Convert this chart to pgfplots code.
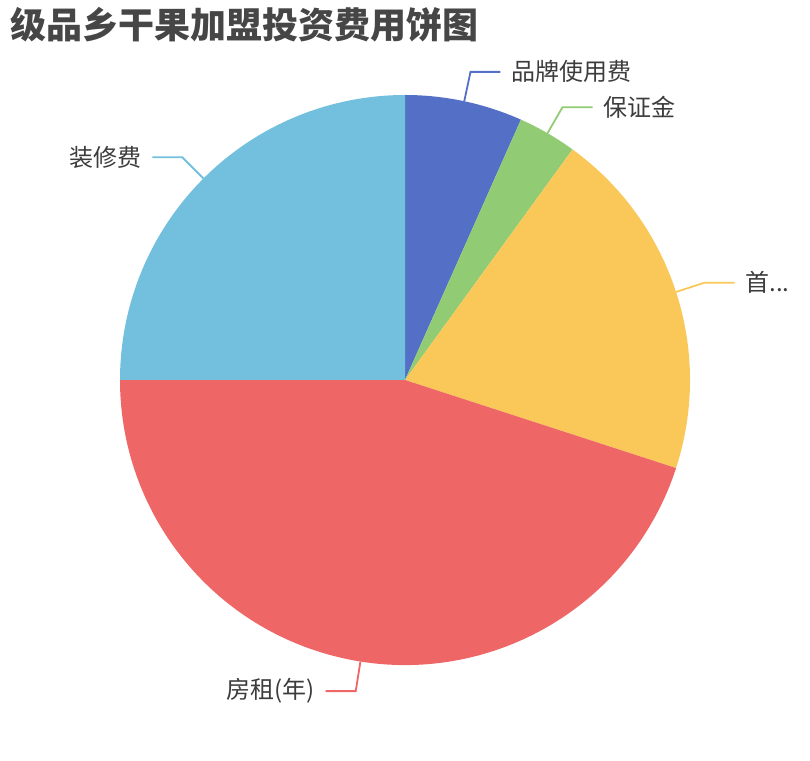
\documentclass[border=0pt]{standalone}
\usepackage{pgfplots}
\pgfplotsset{compat=1.18}
\usepackage{pgfplotstable}
\usepackage{fontspec}
\setmainfont{Noto Sans CJK SC}
\definecolor{c0}{HTML}{5470C6}
\definecolor{c1}{HTML}{91CC75}
\definecolor{c2}{HTML}{FAC858}
\definecolor{c3}{HTML}{EE6666}
\definecolor{c4}{HTML}{73C0DE}
\definecolor{titlec}{HTML}{464646}
\definecolor{labelc}{HTML}{3C3C3C}
\tikzset{lbl/.style={font=\fontsize{24}{28}\selectfont, text=labelc, inner sep=0pt}}
\begin{document}
\begin{tikzpicture}
\pgfplotstableread{
name value
品牌使用费 0.8
保证金 0.4
首... 2.4
房租(年) 5.4
装修费 3.0
}\piedata
\def\tot{0}
\pgfplotsforeachungrouped \i in {0,...,4}{%
  \pgfplotstablegetelem{\i}{value}\of\piedata
  \pgfmathsetmacro\tot{\tot+\pgfplotsretval}}
\def\cur{90}
\pgfplotsforeachungrouped \i in {0,...,4}{%
  \pgfplotstablegetelem{\i}{value}\of\piedata
  \pgfmathsetmacro\spn{360*\pgfplotsretval/\tot}%
  \pgfmathsetmacro\nxt{\cur-\spn}%
  \pgfmathsetmacro\mida{\cur-\spn/2}%
  \pgfmathtruncatemacro\sgn{cos(\mida)>=0 ? 1 : -1}%
  \expandafter\xdef\csname sa\i\endcsname{\cur}%
  \expandafter\xdef\csname ea\i\endcsname{\nxt}%
  \expandafter\xdef\csname ma\i\endcsname{\mida}%
  \expandafter\xdef\csname sg\i\endcsname{\sgn}%
  \ifnum\sgn>0 \expandafter\xdef\csname an\i\endcsname{west}%
  \else \expandafter\xdef\csname an\i\endcsname{east}\fi
  \pgfplotstablegetelem{\i}{name}\of\piedata
  \expandafter\xdef\csname nm\i\endcsname{\pgfplotsretval}%
  \let\cur\nxt}
\begin{axis}[x=1pt,y=1pt,xmin=0,xmax=810,ymin=0,ymax=760,hide axis,clip=false]
\path (axis cs:0,0) rectangle (axis cs:810,760);
\pgfplotsinvokeforeach{0,...,4}{%
  \edef\tmp{\noexpand\fill[c#1] (axis cs:405,380) -- ++(\csname sa#1\endcsname:285pt)
    arc[start angle=\csname sa#1\endcsname, end angle=\csname ea#1\endcsname, radius=285pt] -- cycle;}%
  \tmp
}
\pgfplotsinvokeforeach{0,...,4}{%
  \edef\tmp{\noexpand\draw[c#1, line width=1.8pt] (axis cs:405,380) ++(\csname ma#1\endcsname:285pt)
    -- ++(\csname ma#1\endcsname:30pt) -- ++(\csname sg#1\endcsname*30pt,0)
    node[lbl, anchor=\csname an#1\endcsname, xshift=\csname sg#1\endcsname*10pt] {\csname nm#1\endcsname};}%
  \tmp
}
\node[anchor=west, font=\bfseries\fontsize{36}{40}\selectfont, text=titlec, inner sep=0pt]
  at (axis cs:10,735) {级品乡干果加盟投资费用饼图};
\end{axis}
\end{tikzpicture}
\end{document}
